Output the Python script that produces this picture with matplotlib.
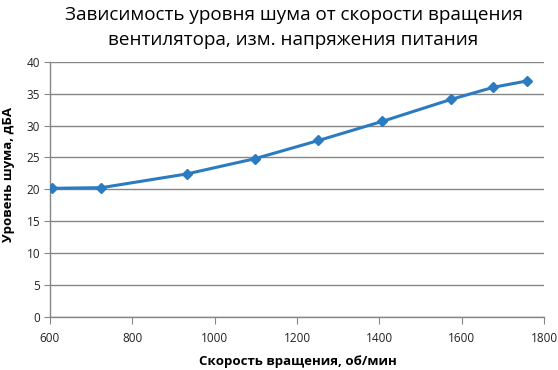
import matplotlib
matplotlib.use('Agg')
from matplotlib import pyplot as plt

# data
rpm = [606, 725, 932, 1098, 1252, 1407, 1574, 1677, 1759]
noise = [20.15, 20.25, 22.4, 24.8, 27.65, 30.65, 34.1, 36.0, 37.0]

x_ticks = [600, 800, 1000, 1200, 1400, 1600, 1800]
y_ticks = [0, 5, 10, 15, 20, 25, 30, 35, 40]

title_lines = ['Зависимость уровня шума от скорости вращения',
               'вентилятора, изм. напряжения питания']

plt.rcParams['font.family'] = ['Open Sans', 'DejaVu Sans']

fig = plt.figure(figsize=(5.58, 3.70), dpi=100)
ax = fig.add_axes([0.0896, 0.144, 0.8855, 0.689])

line_color = '#2b7bc0'
grid_color = '#868686'

ax.plot(rpm, noise, color=line_color, linewidth=2.2, marker='D',
        markersize=5.5, markerfacecolor=line_color, markeredgecolor=line_color,
        zorder=3)

ax.set_xlim(600, 1800)
ax.set_ylim(0, 40)
ax.set_xticks(x_ticks)
ax.set_yticks(y_ticks)

ax.yaxis.grid(True, color=grid_color, linewidth=1.0)
ax.set_axisbelow(True)

for side in ('top', 'right'):
    ax.spines[side].set_visible(False)
for side in ('left', 'bottom'):
    ax.spines[side].set_color(grid_color)
    ax.spines[side].set_linewidth(1.0)

ax.tick_params(axis='x', direction='out', length=5, color=grid_color,
               labelsize=8.5, pad=6, labelcolor='#222222')
ax.tick_params(axis='y', direction='out', length=4, color=grid_color,
               labelsize=8.5, pad=3, labelcolor='#222222')

# axis titles placed in figure coords, like the Excel layout
fig.text(0.533, 0.022, 'Скорость вращения, об/мин', ha='center', va='center',
         fontsize=9.5, fontweight='bold')
fig.text(0.016, 0.528, 'Уровень шума, дБА', ha='center', va='center',
         rotation=90, fontsize=9.5, fontweight='bold')

# two title lines, each centred on its own row
fig.text(0.526, 1 - 15 / 370, title_lines[0], ha='center', va='center',
         fontsize=13.6)
fig.text(0.526, 1 - 40 / 370, title_lines[1], ha='center', va='center',
         fontsize=13.6)

fig.savefig('out.png', dpi=100)
